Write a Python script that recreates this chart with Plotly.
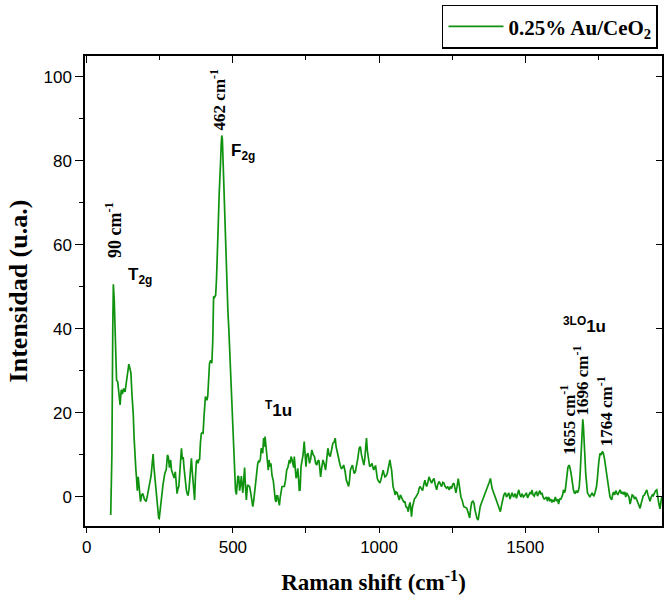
import plotly.graph_objects as go

raman_shift = [82, 86, 89, 91, 94, 97, 100, 102, 106, 110, 114, 118, 122, 126, 131, 135, 140, 144, 148, 151,
               155, 159, 162, 165, 168, 170, 173, 176, 180, 184, 188, 192, 197, 203, 208, 214, 220, 224, 227, 230,
               233, 236, 239, 243, 246, 248, 252, 256, 261, 267, 272, 276, 279, 283, 287, 290, 295, 299, 303, 307,
               309, 312, 315, 318, 321, 324, 327, 330, 333, 337, 341, 345, 347, 350, 354, 358, 361, 364, 366, 369,
               372, 375, 378, 381, 384, 386, 389, 392, 395, 398, 401, 403, 406, 409, 411, 414, 416, 420, 424, 428,
               431, 432, 434, 437, 441, 444, 447, 450, 453, 455, 458, 460, 462, 464, 466, 468, 471, 474, 477, 480,
               483, 486, 489, 492, 495, 498, 500, 503, 506, 509, 512, 514, 517, 520, 523, 526, 529, 531, 534, 537,
               540, 543, 546, 550, 554, 557, 561, 565, 568, 571, 574, 578, 580, 585, 588, 591, 594, 597, 600, 602,
               605, 608, 610, 613, 616, 619, 621, 623, 626, 628, 630, 634, 638, 642, 645, 648, 650, 653, 656, 659,
               662, 665, 668, 672, 676, 680, 684, 688, 693, 696, 699, 702, 704, 708, 710, 713, 716, 719, 722, 725,
               727, 730, 733, 737, 740, 744, 747, 750, 753, 757, 759, 762, 766, 770, 775, 779, 783, 787, 790, 794,
               797, 800, 804, 808, 812, 817, 821, 825, 829, 833, 837, 842, 846, 850, 853, 856, 860, 863, 867, 871,
               875, 879, 884, 888, 892, 896, 899, 902, 906, 909, 912, 915, 919, 923, 927, 932, 936, 940, 943, 946,
               948, 951, 953, 955, 957, 960, 963, 966, 968, 972, 976, 979, 982, 985, 988, 991, 994, 998, 1003, 1006,
               1008, 1011, 1014, 1017, 1020, 1024, 1028, 1032, 1037, 1040, 1043, 1046, 1048, 1052, 1055, 1058, 1062, 1066, 1069, 1073,
               1077, 1081, 1085, 1088, 1092, 1096, 1100, 1103, 1106, 1109, 1111, 1114, 1117, 1121, 1126, 1130, 1134, 1137, 1140, 1145,
               1149, 1153, 1157, 1160, 1163, 1167, 1171, 1175, 1180, 1184, 1188, 1192, 1197, 1201, 1206, 1210, 1214, 1218, 1222, 1226,
               1231, 1235, 1240, 1244, 1248, 1252, 1256, 1260, 1263, 1267, 1271, 1274, 1277, 1280, 1284, 1287, 1290, 1296, 1300, 1304,
               1307, 1310, 1313, 1317, 1321, 1325, 1328, 1331, 1335, 1339, 1342, 1346, 1350, 1354, 1357, 1361, 1365, 1369, 1373, 1377,
               1381, 1384, 1387, 1392, 1396, 1400, 1404, 1408, 1412, 1415, 1419, 1423, 1427, 1432, 1436, 1440, 1444, 1448, 1452, 1455,
               1460, 1466, 1470, 1474, 1478, 1482, 1486, 1489, 1494, 1500, 1504, 1508, 1512, 1516, 1520, 1523, 1527, 1531, 1535, 1539,
               1542, 1546, 1550, 1554, 1557, 1561, 1565, 1569, 1573, 1576, 1580, 1584, 1588, 1591, 1595, 1599, 1603, 1607, 1611, 1614,
               1618, 1622, 1625, 1628, 1631, 1634, 1637, 1640, 1642, 1646, 1650, 1653, 1657, 1661, 1665, 1668, 1671, 1675, 1679, 1682,
               1685, 1688, 1691, 1693, 1695, 1697, 1699, 1701, 1704, 1707, 1710, 1713, 1717, 1721, 1725, 1729, 1732, 1735, 1738, 1741,
               1744, 1747, 1749, 1752, 1756, 1760, 1764, 1767, 1771, 1775, 1779, 1782, 1785, 1788, 1790, 1793, 1796, 1799, 1802, 1806,
               1810, 1813, 1817, 1821, 1825, 1829, 1833, 1836, 1840, 1844, 1847, 1851, 1855, 1859, 1862, 1866, 1870, 1874, 1878, 1882,
               1886, 1890, 1893, 1897, 1901, 1904, 1908, 1912, 1916, 1920, 1924, 1927, 1931, 1935, 1938, 1942, 1946, 1950, 1953, 1957,
               1961, 1964, 1967]

intensity = [-4.3, 10, 40, 50.6, 47, 40, 30, 27.8, 27.4, 24, 21.9, 25.5, 24.5, 25.8, 25, 27, 30, 31.6, 30.5, 29.5,
             24, 19.9, 14, 8.8, 6.5, 4.8, 1.5, 4.8, 1, -1.1, 0.5, 0.8, -0.5, -1.1, 0.5, 2.5, 5, 8, 10.2, 7,
             4.8, 3, -0.7, -3, -5, -5.1, -2, 0.8, 3, 5.6, 6.5, 10, 9.5, 7, 8.8, 6.4, 5, 4.5, 6, 3,
             0.8, 2, 2.5, 5.6, 8, 11.6, 9, 9.5, 6.8, 3, 1.5, 0.5, 0.5, 2, 5, 9.2, 6, 3.3, 0.1, -0.7,
             5, 8.4, 8.8, 8, 9, 8.8, 13, 15.1, 15.3, 15.2, 19, 22, 23.9, 23.5, 23, 24, 27, 31.8, 32.5, 31.8,
             37, 40.5, 47.7, 47.5, 48, 52, 57, 65, 72, 78, 80, 84, 86, 85, 80, 75, 68, 60, 55, 48,
             44, 40, 35, 29, 23, 19, 16.7, 10, 4, 1.5, 0.6, 3, 5, 4.8, 1.5, 3, 5, 3, 1, 4,
             7, 2.5, -0.7, 2.9, 2.5, 2.5, 1, -1, -2.3, -1, 0.8, 4.1, 5.2, 8, 8.5, 8.4, 9, 11.6, 11.2, 10.4,
             14, 12, 14.4, 12, 10, 8, 6.4, 8.8, 8, 7.2, 8, 5, 4, 0.4, -0.7, -1.2, 0.3, 0.3, -0.5, -2,
             0, 1.5, 2.5, 2.5, 2.5, 4, 6.4, 7, 8.8, 8, 9.6, 9, 8, 7, 9.6, 7, 4.5, 5, 6.8, 4,
             1.6, 1.7, 7.2, 8.8, 10, 13.2, 10, 7.2, 10, 10.4, 9.6, 8, 9, 11.2, 10, 9.6, 8, 7.6, 8.5, 8.8,
             7, 4.8, 7, 8.8, 8, 6.4, 9, 11.6, 10, 9.6, 11, 12.8, 13, 14, 12, 10.8, 9.5, 8.8, 7.5, 6.8,
             7, 7.6, 6, 4, 3.3, 2.5, 4, 6.4, 7.2, 7.6, 6.5, 5.6, 6, 7.2, 9, 11.6, 12, 10, 9, 8,
             7.6, 9, 10.8, 12.5, 14, 11, 9, 8, 7.2, 7.5, 8, 7, 6.4, 7, 7.5, 6, 4.4, 3.8, 3.3, 4,
             4.8, 5.5, 6.4, 5.5, 4.8, 5, 5.6, 7, 8.8, 7.5, 6.4, 4, 2.5, 1.5, 0.5, 1.2, 1, 0, -0.7, 0.5,
             0, -0.5, -1.3, -1, -2.3, -2.5, -3.5, -2, -1.3, -3, -4.7, -2.5, -1.3, -0.5, 0, 0.5, 1, 2, 2.5, 2,
             1.5, 3, 4, 3, 2.5, 3.5, 4.8, 4, 3.3, 4, 4.4, 3, 1.7, 3, 3.7, 3, 2.5, 3.5, 3.3, 2.5,
             2.1, 2.5, 1.7, 2.5, 2, 3, 3.3, 2, 1, 2.5, 4.4, 3, 1, 0, -0.7, -1.5, -2.3, -2.5, -2.7, -3.5,
             -4.7, -5, -3, -1.3, -1, -1.5, -3, -4, -5.1, -5.5, -4, -2.3, -1.5, -0.8, -0.3, 0.5, 1, 1.7, 2.5, 3.5,
             4.4, 3, 2, 1, 0, -0.5, -1.3, -2, -3, -3.5, -2, -0.7, 0.5, 1, 0, 0.5, 1, -0.5, 0.5, 1,
             0, 0.8, -0.3, 1, 1.7, 0.5, 0, 0.8, 0, 0.5, 1, -0.2, 0.5, 1, 0.8, 1.7, 0.5, 0.2, 1, 1.2,
             0.2, 1, 1.5, 0.6, 1, 0, -0.5, -0.3, 0, -1, 0, -0.8, -0.5, -1.3, -0.8, -1, 0, -1, -0.5, -1.7,
             -0.5, -0.5, 0, 0.5, 1.7, 1, 1.5, 3.5, 5.6, 7, 7.6, 7, 5.6, 3, 1.7, 1, 0.9, 1.5, 1, 1.5,
             2.5, 5.6, 10, 13.6, 17, 18.5, 17, 15, 10, 5.6, 2.5, 1, 0.5, 0, 0.5, 1, 0.5, 0.3, 0.8, 1.5,
             2.5, 4.5, 6.4, 8.5, 10.4, 10, 10.8, 10.5, 9.2, 7.5, 5.6, 4, 2.9, 1, 0, -0.5, -0.7, 0.5, 1.2, 0.5,
             1.5, 1, 0.5, 1.2, 1.7, 0.8, 1.2, 0.6, 1.2, 0, 1, 0.5, 0, -1.7, -0.5, 0.5, 0.3, -0.5, 0, -0.8,
             -1.5, -2.2, -2.7, -1.5, 0, 0.3, 0.5, 1, 1.7, 0.5, -0.5, -1, 0, 0.5, 0.3, 1, 1.5, 1.7, 0, -1.5,
             -2.8, -1, 0]

series_name = "<b>0.25% Au/CeO<sub>2</sub></b>"
x_tick_vals = [0, 500, 1000, 1500]
y_tick_vals = [0, 20, 40, 60, 80, 100]

GREEN = "#0f930f"
SERIF = "Liberation Serif, Times New Roman, serif"
SANS = "Liberation Sans, Arial, sans-serif"

fig = go.Figure()
fig.add_trace(go.Scatter(x=raman_shift, y=intensity, mode="lines", name=series_name,
                         line=dict(color=GREEN, width=1.7)))
# empty trace to activate mirrored (inside-tick) axes
fig.add_trace(go.Scatter(x=[], y=[], xaxis="x2", yaxis="y2", showlegend=False, hoverinfo="skip"))

xr = [-6, 1968]
yr = [-6.9, 104.9]

fig.update_layout(
    width=665, height=605,
    margin=dict(l=85, r=1, t=56, b=79),
    paper_bgcolor="white", plot_bgcolor="white",
    showlegend=True,
    legend=dict(x=0.993, y=1.109, xanchor="right", yanchor="top",
                bordercolor="black", borderwidth=1.5, bgcolor="white",
                font=dict(family=SERIF, size=21, color="black"),
                itemwidth=55, tracegroupgap=0),
    xaxis=dict(range=xr, tickvals=x_tick_vals, ticks="outside", ticklen=5, tickwidth=1.3,
               tickcolor="black", showline=True, linecolor="black", linewidth=1.5, mirror=True,
               showgrid=False, zeroline=False,
               minor=dict(dtick=250, tick0=0, ticks="outside", ticklen=5, tickwidth=1.3, tickcolor="black"),
               tickfont=dict(family=SANS, size=17, color="black"),
               title=dict(text="<b>Raman shift (cm<sup>-1</sup>)</b>", standoff=18,
                          font=dict(family=SERIF, size=23, color="black"))),
    yaxis=dict(range=yr, tickvals=y_tick_vals, ticks="outside", ticklen=8, tickwidth=1.3,
               tickcolor="black", showline=True, linecolor="black", linewidth=1.5, mirror=True,
               showgrid=False, zeroline=False,
               minor=dict(dtick=10, tick0=0, ticks="outside", ticklen=4, tickwidth=1.3, tickcolor="black"),
               tickfont=dict(family=SANS, size=17, color="black"),
               title=dict(text="<b>Intensidad (u.a.)</b>", standoff=8,
                          font=dict(family=SERIF, size=26, color="black"))),
    xaxis2=dict(range=xr, overlaying="x", side="top", anchor="y", tickvals=[0, 500, 1000, 1500],
                ticks="inside", ticklen=7, tickwidth=1.3, tickcolor="black", showticklabels=False,
                showline=False, showgrid=False, zeroline=False,
                minor=dict(dtick=250, tick0=0, ticks="inside", ticklen=4, tickwidth=1.3, tickcolor="black")),
    yaxis2=dict(range=yr, overlaying="y", side="right", anchor="x", tickvals=y_tick_vals,
                ticks="inside", ticklen=6, tickwidth=1.3, tickcolor="black", showticklabels=False,
                showline=False, showgrid=False, zeroline=False),
)

peak_font = dict(family=SERIF, size=17, color="black")
mode_font = dict(family=SANS, size=17, color="black")

annotations = [
    dict(x=90, y=63.5, text="<b>90 cm<sup>-1</sup></b>", textangle=-90, font=dict(family=SERIF, size=18, color="black")),
    dict(x=448, y=94.5, text="<b>462 cm<sup>-1</sup></b>", textangle=-90, font=peak_font),
    dict(x=1645, y=18.3, text="<b>1655 cm<sup>-1</sup></b>", textangle=-90, font=peak_font),
    dict(x=1692, y=27.8, text="<b>1696 cm<sup>-1</sup></b>", textangle=-90, font=peak_font),
    dict(x=1771, y=20.5, text="<b>1764 cm<sup>-1</sup></b>", textangle=-90, font=peak_font),
    dict(x=182, y=52.6, text="<b>T<sub>2g</sub></b>", font=mode_font),
    dict(x=535, y=82, text="<b>F<sub>2g</sub></b>", font=mode_font),
    dict(x=656, y=21, text="<b><sup>T</sup>1u</b>", font=dict(family=SANS, size=17, color="black")),
    dict(x=1703, y=41, text="<b><sup>3LO</sup>1u</b>", font=dict(family=SANS, size=17, color="black")),
]
for a in annotations:
    fig.add_annotation(xref="x", yref="y", showarrow=False, **a)

fig.write_html("out.html")
